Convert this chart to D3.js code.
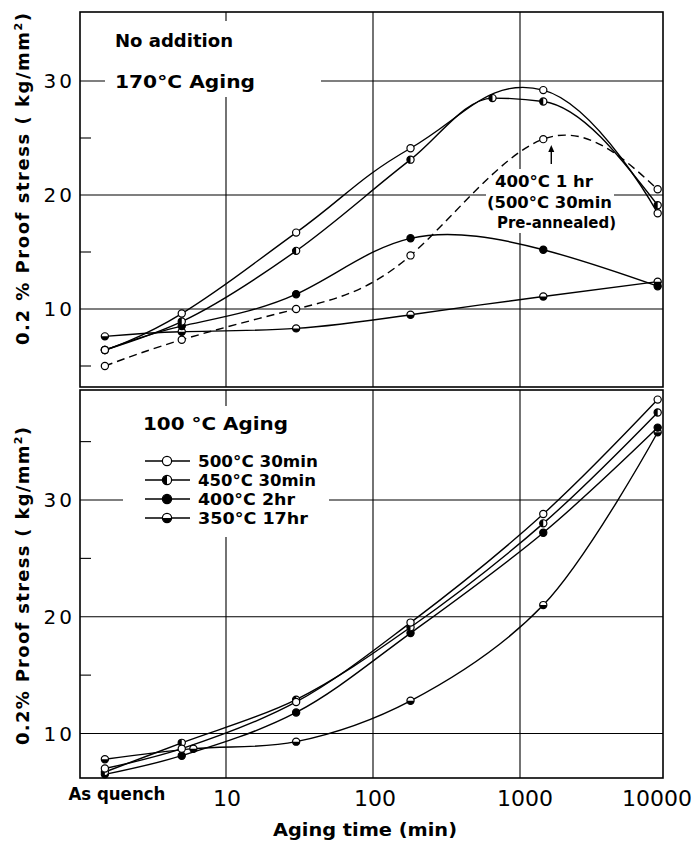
<!DOCTYPE html>
<html><head><meta charset="utf-8">
<script src="https://cdn.jsdelivr.net/npm/d3@7"></script>
<style>body{margin:0;background:#fff}svg{display:block}</style>
</head><body><script>
// ---- data ----
const AQ = 1.5; // plotting position (min) used for "As quench"
const topTimes = [AQ, 5, 30, 180, 1440, 8640];
const topTimes450 = [AQ, 5, 30, 180, 650, 1440, 8640];
const top500 = [6.4, 9.6, 16.7, 24.1, 29.2, 18.4];
const top450 = [6.4, 8.9, 15.1, 23.1, 28.5, 28.2, 19.1];
const top400 = [6.4, 8.5, 11.3, 16.2, 15.2, 12.0];
const top350 = [7.6, 8.0, 8.3, 9.5, 11.1, 12.4];
const topPre = [5.0, 7.3, 10.0, 14.7, 24.9, 20.5];
const botTimes = [AQ, 5, 30, 180, 1440, 8640];
const botTimes350 = [AQ, 6, 30, 180, 1440, 8640];
const bot500 = [7.0, 8.7, 12.7, 19.5, 28.8, 38.6];
const bot450 = [6.7, 9.2, 12.9, 19.1, 28.0, 37.5];
const bot400 = [6.5, 8.1, 11.8, 18.6, 27.2, 36.2];
const bot350 = [7.8, 8.7, 9.3, 12.8, 21.0, 35.8];
const xGrid = [10, 100, 1000];
const xTicks = [10, 100, 1000, 10000];
const xTickLabels = ["10", "100", "1000", "10000"];
const aqLabel = "As quench";
const yGrid = [10, 20, 30];
const yMinorTop = [5, 15, 25];
const yMinorBot = [15, 25, 35];
const legendLabels = ["500°C  30min", "450°C  30min", "400°C  2hr", "350°C  17hr"];
const legendTypes = ["open", "halfLeft", "full", "halfBottom"];

// ---- layout ----
const W = 696, H = 842;
const L = 80, R = 663;
const P1 = {top: 12, bottom: 387}, P2 = {top: 390, bottom: 778};
const x = d3.scaleLog().domain([10, 1000]).range([226, 520]);
const yT = d3.scaleLinear().domain([10, 30]).range([309, 81]);
const yB = d3.scaleLinear().domain([10, 30]).range([733.5, 500]);
const FONT = "'DejaVu Sans', sans-serif";

const svg = d3.select("body").append("svg").attr("width", W).attr("height", H);
svg.append("rect").attr("width", W).attr("height", H).attr("fill", "#fff");

function txt(g, px, py, s, size, weight, anchor, len) {
  const t = g.append("text").attr("x", px).attr("y", py).attr("font-family", FONT)
    .attr("font-size", size).attr("font-weight", weight).attr("text-anchor", anchor || "start")
    .attr("fill", "#000").text(s);
  if (len) t.attr("textLength", len).attr("lengthAdjust", "spacingAndGlyphs");
  return t;
}

function panel(P, y, minor) {
  const g = svg.append("g");
  g.selectAll(".vg").data(xGrid).join("line")
    .attr("x1", d => x(d)).attr("x2", d => x(d)).attr("y1", P.top).attr("y2", P.bottom)
    .attr("stroke", "#000").attr("stroke-width", 1.1);
  g.selectAll(".hg").data(yGrid).join("line")
    .attr("x1", L).attr("x2", R).attr("y1", d => y(d)).attr("y2", d => y(d))
    .attr("stroke", "#000").attr("stroke-width", 1.1);
  g.selectAll(".mt").data(minor).join("line")
    .attr("x1", L).attr("x2", L + 11).attr("y1", d => y(d)).attr("y2", d => y(d))
    .attr("stroke", "#000").attr("stroke-width", 1.1);
  g.append("rect").attr("x", L).attr("y", P.top).attr("width", R - L).attr("height", P.bottom - P.top)
    .attr("fill", "none").attr("stroke", "#000").attr("stroke-width", 1.6);
  g.selectAll(".yl").data(yGrid).join("text")
    .attr("x", 75).attr("y", d => y(d) + 7).attr("text-anchor", "end")
    .attr("font-family", FONT).attr("font-size", 20).attr("letter-spacing", 3)
    .text(d => d);
  return g;
}
panel(P1, yT, yMinorTop);
panel(P2, yB, yMinorBot);

// white masks behind text blocks (gridlines interrupted in the original)
svg.append("rect").attr("x", 105).attr("y", 21).attr("width", 216).attr("height", 76).attr("fill", "#fff");
svg.append("rect").attr("x", 486).attr("y", 169).attr("width", 128).attr("height", 64).attr("fill", "#fff");
svg.append("rect").attr("x", 123).attr("y", 406).attr("width", 206).attr("height", 131).attr("fill", "#fff");

const mkLine = (y, curve) => d3.line().x(d => x(d[0])).y(d => y(d[1])).curve(curve);

function marker(g, type, cx, cy, r) {
  if (type === "full") {
    g.append("circle").attr("cx", cx).attr("cy", cy).attr("r", r).attr("fill", "#000").attr("stroke", "#000").attr("stroke-width", 1.2);
    return;
  }
  g.append("circle").attr("cx", cx).attr("cy", cy).attr("r", r).attr("fill", "#fff").attr("stroke", "#000").attr("stroke-width", 1.2);
  if (type === "halfLeft")
    g.append("path").attr("d", `M${cx},${cy - r}A${r},${r} 0 0 0 ${cx},${cy + r}Z`).attr("fill", "#000");
  if (type === "halfBottom")
    g.append("path").attr("d", `M${cx - r},${cy}A${r},${r} 0 0 0 ${cx + r},${cy}Z`).attr("fill", "#000");
}

function series(g, y, curve, times, vals, type, dashed) {
  const pts = times.map((t, i) => [t, vals[i]]);
  g.append("path").attr("d", mkLine(y, curve)(pts)).attr("fill", "none").attr("stroke", "#000")
    .attr("stroke-width", 1.4).attr("stroke-dasharray", dashed ? "8,5" : null);
  pts.forEach(p => marker(g, type, x(p[0]), y(p[1]), 3.6));
}

const NAT = d3.curveNatural, CR = d3.curveCatmullRom.alpha(0.5);
const cTop = svg.append("g"), cBot = svg.append("g");
series(cTop, yT, NAT, topTimes, topPre, "open", true);
series(cTop, yT, NAT, topTimes, top350, "halfBottom");
series(cTop, yT, NAT, topTimes, top400, "full");
series(cTop, yT, d3.curveMonotoneX, topTimes450, top450, "halfLeft");
series(cTop, yT, d3.curveCardinal.tension(-0.3), topTimes, top500, "open");

series(cBot, yB, CR, botTimes350, bot350, "halfBottom");
series(cBot, yB, CR, botTimes, bot400, "full");
series(cBot, yB, CR, botTimes, bot450, "halfLeft");
series(cBot, yB, CR, botTimes, bot500, "open");

// texts top panel
txt(svg, 115, 47, "No addition", 17, "bold", "start", 118);
txt(svg, 115, 88, "170°C  Aging", 18, "bold", "start", 140);
txt(svg, 495, 187, "400°C 1 hr", 15, "bold", "start", 98);
txt(svg, 487, 208, "(500°C 30min", 15, "bold", "start", 125);
txt(svg, 497, 228, "Pre-annealed)", 15, "bold", "start", 119);
const ax = x(1440) + 8;
svg.append("line").attr("x1", ax).attr("x2", ax).attr("y1", 164).attr("y2", 149).attr("stroke", "#000").attr("stroke-width", 1.4);
svg.append("path").attr("d", `M${ax - 3},${152}L${ax},${145}L${ax + 3},${152}Z`).attr("fill", "#000");

// bottom panel legend
txt(svg, 143, 430, "100 °C  Aging", 18, "bold", "start", 145);
const legLens = [120, 118, 97, 110];
legendLabels.forEach((s, i) => {
  const cy = 461 + i * 19;
  svg.append("line").attr("x1", 145).attr("x2", 190).attr("y1", cy).attr("y2", cy).attr("stroke", "#000").attr("stroke-width", 1.5);
  marker(svg, legendTypes[i], 167, cy, 4.6);
  txt(svg, 198, cy + 6, s, 16, "bold", "start", legLens[i]);
});

// y titles
function ytitle(cy, len, s1) {
  const t = svg.append("text").attr("transform", `translate(29,${cy}) rotate(-90)`)
    .attr("text-anchor", "middle").attr("font-family", FONT).attr("font-size", 18).attr("font-weight", "bold");
  t.append("tspan").text(s1);
  t.append("tspan").attr("font-size", 11).attr("dy", -7).text("2");
  t.append("tspan").attr("dy", 7).text(")");
  t.attr("textLength", len).attr("lengthAdjust", "spacing");
}
ytitle(179, 332, "0.2 %  Proof  stress  ( kg/mm");
ytitle(586, 318, "0.2%  Proof  stress  ( kg/mm");

// x axis labels
txt(svg, x(AQ) + 12, 800, aqLabel, 17, "bold", "middle", 97);
const xOff = [1, 2, 5, -10];
xTicks.forEach((v, i) => {
  txt(svg, x(v) + xOff[i], 806, xTickLabels[i], 22, "normal", "middle");
});
txt(svg, 365, 836, "Aging  time  (min)", 18, "bold", "middle", 184);
</script></body></html>
